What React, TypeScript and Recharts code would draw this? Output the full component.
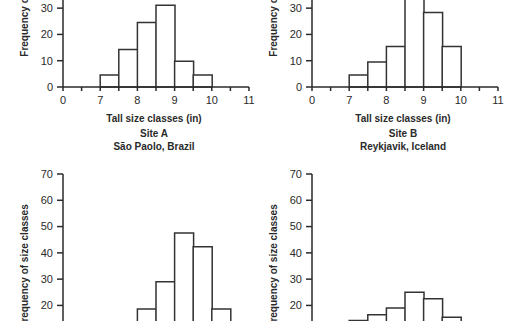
import { Bar, BarChart, XAxis, YAxis } from "recharts";

const xTicks = [6, 6.5, 7, 7.5, 8, 8.5, 9, 9.5, 10, 10.5, 11];
const yTicks = [0, 10, 20, 30, 40, 50, 60, 70];

const siteABins = [7.25, 7.75, 8.25, 8.75, 9.25, 9.75];
const siteAFreq = [4.6, 14.3, 24.5, 31.1, 9.8, 4.6];

const siteBBins = [7.25, 7.75, 8.25, 8.75, 9.25, 9.75];
const siteBFreq = [4.6, 9.5, 15.4, 38, 28.3, 15.4];

const siteCBins = [8.25, 8.75, 9.25, 9.75, 10.25];
const siteCFreq = [18.6, 29, 47.6, 42.3, 18.6];

const siteDBins = [7.25, 7.75, 8.25, 8.75, 9.25, 9.75];
const siteDFreq = [14.3, 16.5, 19, 25, 22.5, 15.5];

const FONT = '"Liberation Sans", Arial, sans-serif';
const INK = "#2a2a2a";

function xLabel(lines: string[]) {
  return (props: any) => {
    const vb = props.viewBox || {};
    const cx = vb.x + vb.width / 2 - 2;
    const base = [34.5, 49.5, 63];
    return (
      <g>
        {lines.map((line, i) => (
          <text key={i} x={cx} y={vb.y + base[i]} textAnchor="middle" fontFamily={FONT} fontSize={10} fontWeight="bold" fill={INK}>
            {line}
          </text>
        ))}
      </g>
    );
  };
}

function yLabel(props: any) {
  const vb = props.viewBox || {};
  const cx = vb.x + vb.width - 35;
  const cy = vb.y + vb.height / 2;
  return (
    <text x={cx} y={cy} transform={`rotate(-90 ${cx} ${cy})`} textAnchor="middle" fontFamily={FONT} fontSize={10} fontWeight="bold" fill={INK}>
      Frequency of size classes
    </text>
  );
}

function Histogram({ bins, freq, lines, left, top }: { bins: number[]; freq: number[]; lines: string[]; left: number; top: number }) {
  const data = bins.map((x, i) => ({ x, y: freq[i] }));
  const tickStyle = { fontSize: 11, fill: INK, fontFamily: FONT };
  return (
    <div style={{ position: "absolute", left, top }}>
      <BarChart width={261} height={259} data={data} margin={{ top: 5, right: 12, bottom: 0, left: 0 }} barCategoryGap={0} barGap={0}>
        <XAxis
          dataKey="x"
          type="number"
          domain={[6, 11]}
          ticks={xTicks}
          interval={0}
          allowDataOverflow
          height={70}
          tickSize={4}
          tickMargin={5}
          tick={tickStyle}
          stroke={INK}
          strokeWidth={1.5}
          tickFormatter={(v: number) => (v === 6 ? "0" : Number.isInteger(v) ? String(v) : "")}
          label={{ content: xLabel(lines) }}
        />
        <YAxis
          type="number"
          domain={[0, 70]}
          ticks={yTicks}
          interval={0}
          width={63}
          tickSize={6}
          tickMargin={4}
          tick={tickStyle}
          stroke={INK}
          strokeWidth={1.5}
          label={{ content: yLabel }}
        />
        <Bar dataKey="y" fill="#ffffff" stroke="#333333" strokeWidth={1.5} isAnimationActive={false} />
      </BarChart>
    </div>
  );
}

export default function App() {
  return (
    <div style={{ position: "absolute", left: 0, top: 0, width: 521, height: 321, overflow: "hidden", background: "#fff" }}>
      <Histogram bins={siteABins} freq={siteAFreq} lines={["Tall size classes (in)", "Site A", "São Paolo, Brazil"]} left={0} top={-102} />
      <Histogram bins={siteBBins} freq={siteBFreq} lines={["Tall size classes (in)", "Site B", "Reykjavik, Iceland"]} left={249} top={-102} />
      <Histogram bins={siteCBins} freq={siteCFreq} lines={["Tall size classes (in)", "Site C"]} left={0} top={169} />
      <Histogram bins={siteDBins} freq={siteDFreq} lines={["Tall size classes (in)", "Site D"]} left={249} top={169} />
    </div>
  );
}
